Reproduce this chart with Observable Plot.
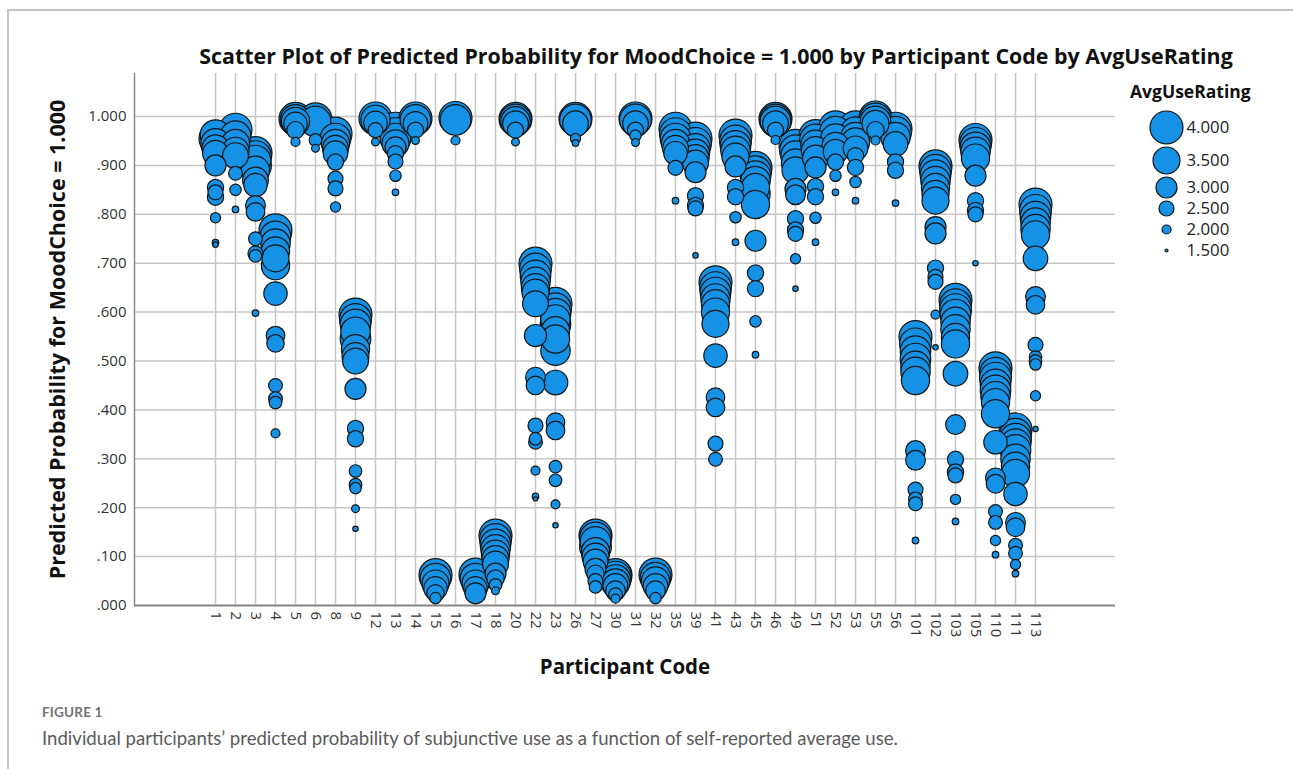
<!DOCTYPE html>
<html><head><meta charset="utf-8">
<script src="https://cdn.jsdelivr.net/npm/d3@7"></script>
<script src="https://cdn.jsdelivr.net/npm/@observablehq/plot@0.6"></script>
<style>
body{margin:0;background:#fff;overflow:hidden;font-family:"Open Sans",sans-serif;}
#wrap{position:relative;width:1293px;height:769px;overflow:hidden;}
#frame{position:absolute;left:7px;top:9px;width:1320px;height:800px;border-left:2px solid #c4c4c4;border-top:2px solid #c4c4c4;}
#title{position:absolute;left:0;width:1432px;top:41px;text-align:center;font-weight:700;font-size:21.4px;color:#111;white-space:nowrap;}
#main{position:absolute;left:0;top:0;}
#legtitle{position:absolute;left:1130px;top:79px;font-weight:700;font-size:17.5px;color:#111;}
#legend{position:absolute;left:1120px;top:100px;}
#fig{position:absolute;left:42px;top:704px;font-family:Lato,sans-serif;font-weight:700;font-size:13.5px;color:#737373;letter-spacing:0.2px;}
#cap{position:absolute;left:42px;top:727px;font-family:Lato,sans-serif;font-size:18.6px;color:#5a5a5a;white-space:nowrap;}
</style></head>
<body>
<div id="wrap">
<div id="frame"></div>
<div id="main"></div>
<div id="title">Scatter Plot of Predicted Probability for MoodChoice = 1.000 by Participant Code by AvgUseRating</div>
<div id="legtitle">AvgUseRating</div>
<div id="legend"></div>
<div id="fig">FIGURE 1</div>
<div id="cap">Individual participants’ predicted probability of subjunctive use as a function of self-reported average use.</div>
</div>
<script>
const codes = ["1","2","3","4","5","6","8","9","12","13","14","15","16","17","18","20","22","23","26","27","30","31","32","35","39","41","43","45","46","49","51","52","53","55","56","101","102","103","105","110","111","113"];

const probs = [
 [0.962,0.955,0.945,0.935,0.925,0.90,0.855,0.845,0.835,0.793,0.742,0.738],
 [0.973,0.96,0.945,0.93,0.92,0.884,0.85,0.81],
 [0.925,0.918,0.91,0.90,0.89,0.87,0.86,0.818,0.805,0.75,0.72,0.715,0.598],
 [0.767,0.755,0.74,0.725,0.71,0.695,0.638,0.552,0.536,0.45,0.423,0.415,0.352],
 [0.995,0.993,0.99,0.985,0.972,0.948],
 [0.994,0.99,0.952,0.935],
 [0.965,0.955,0.945,0.935,0.925,0.907,0.873,0.853,0.815],
 [0.595,0.585,0.575,0.56,0.545,0.525,0.51,0.50,0.443,0.362,0.341,0.275,0.247,0.24,0.198,0.157],
 [0.996,0.993,0.987,0.972,0.948],
 [0.975,0.965,0.955,0.945,0.937,0.924,0.908,0.879,0.845],
 [0.996,0.993,0.985,0.972,0.951],
 [0.062,0.055,0.045,0.035,0.025,0.015],
 [0.997,0.993,0.951],
 [0.063,0.055,0.045,0.035,0.025],
 [0.143,0.135,0.125,0.115,0.105,0.095,0.085,0.065,0.055,0.042,0.03],
 [0.995,0.993,0.99,0.985,0.972,0.948],
 [0.699,0.688,0.675,0.662,0.65,0.64,0.617,0.552,0.467,0.45,0.368,0.341,0.334,0.276,0.223,0.218],
 [0.617,0.607,0.597,0.585,0.575,0.562,0.545,0.521,0.456,0.375,0.358,0.284,0.256,0.207,0.164],
 [0.995,0.993,0.985,0.955,0.946],
 [0.143,0.138,0.13,0.12,0.11,0.10,0.09,0.075,0.065,0.05,0.038],
 [0.062,0.058,0.052,0.046,0.04,0.03,0.022,0.014],
 [0.996,0.993,0.985,0.972,0.961,0.947],
 [0.063,0.057,0.05,0.04,0.03,0.015],
 [0.975,0.965,0.955,0.945,0.935,0.925,0.895,0.828],
 [0.955,0.945,0.935,0.925,0.915,0.905,0.886,0.838,0.818,0.812,0.716],
 [0.661,0.65,0.64,0.628,0.617,0.60,0.576,0.511,0.426,0.405,0.331,0.299],
 [0.961,0.95,0.94,0.93,0.918,0.898,0.855,0.836,0.794,0.743],
 [0.895,0.887,0.878,0.868,0.855,0.842,0.82,0.746,0.68,0.648,0.581,0.513],
 [0.995,0.993,0.99,0.985,0.972,0.952],
 [0.94,0.93,0.92,0.905,0.89,0.852,0.84,0.791,0.768,0.76,0.709,0.648],
 [0.96,0.952,0.942,0.93,0.915,0.896,0.857,0.836,0.793,0.743],
 [0.978,0.968,0.955,0.94,0.928,0.907,0.879,0.845],
 [0.978,0.968,0.958,0.948,0.935,0.92,0.896,0.866,0.828],
 [0.998,0.995,0.99,0.985,0.972,0.951],
 [0.975,0.968,0.958,0.944,0.907,0.89,0.823],
 [0.549,0.535,0.52,0.505,0.49,0.478,0.46,0.317,0.297,0.237,0.218,0.208,0.133],
 [0.898,0.89,0.88,0.868,0.855,0.842,0.828,0.774,0.761,0.69,0.672,0.662,0.595,0.528],
 [0.625,0.615,0.605,0.595,0.58,0.565,0.548,0.535,0.474,0.37,0.299,0.273,0.266,0.217,0.172],
 [0.952,0.945,0.937,0.928,0.915,0.879,0.828,0.808,0.80,0.70],
 [0.485,0.475,0.465,0.452,0.44,0.428,0.415,0.392,0.334,0.261,0.249,0.192,0.17,0.133,0.104],
 [0.36,0.35,0.34,0.33,0.318,0.30,0.285,0.27,0.228,0.17,0.16,0.123,0.107,0.084,0.065],
 [0.82,0.808,0.795,0.783,0.77,0.758,0.71,0.632,0.615,0.533,0.508,0.50,0.493,0.429,0.361]
];

const ratings = [
 [3.8,4.0,3.7,3.5,3.4,3.0,2.6,2.5,2.6,2.1,1.8,1.7],
 [4.0,3.8,3.6,3.5,3.4,2.4,2.2,1.8],
 [4.0,3.9,3.8,3.9,3.6,3.4,3.2,2.9,2.8,2.4,2.5,2.3,1.8],
 [4.0,3.8,3.7,3.6,3.5,3.6,3.2,2.8,2.7,2.4,2.4,2.3,2.0],
 [4.0,3.8,3.6,3.2,2.7,2.0],
 [4.0,3.8,2.3,1.9],
 [4.0,3.8,3.6,3.4,3.3,2.6,2.5,2.5,2.1],
 [4.0,3.9,3.8,3.7,3.8,3.6,3.5,3.4,3.0,2.6,2.6,2.3,2.3,2.2,1.9,1.7],
 [4.0,3.7,3.2,2.5,1.9],
 [4.0,3.9,3.8,3.5,3.0,2.6,2.5,2.2,1.8],
 [4.0,3.8,3.3,2.6,1.9],
 [4.0,3.8,3.5,3.2,2.7,2.2],
 [4.0,3.8,2.0],
 [4.0,3.8,3.5,3.2,3.0],
 [4.0,3.9,3.8,3.7,3.6,3.5,3.4,3.0,2.7,2.3,1.9],
 [4.0,3.9,3.7,3.4,2.6,1.9],
 [4.0,3.9,3.8,3.7,3.6,3.5,3.4,3.1,2.9,2.8,2.5,2.3,2.4,2.0,1.8,1.6],
 [4.0,3.9,3.8,3.7,3.8,3.6,3.6,3.7,3.3,2.8,2.8,2.3,2.3,2.0,1.7],
 [4.0,3.9,3.4,2.1,1.8],
 [4.0,3.9,3.8,3.9,3.6,3.5,3.3,3.0,2.7,2.5,2.3],
 [4.0,3.9,3.8,3.6,3.3,2.9,2.4,2.0],
 [4.0,3.9,3.4,2.6,2.2,1.9],
 [4.0,3.8,3.6,3.3,2.9,2.2],
 [4.0,3.9,3.8,3.6,3.4,3.2,2.5,1.8],
 [4.0,3.9,3.7,3.6,3.5,3.4,3.0,2.6,2.6,2.5,1.7],
 [4.0,3.9,3.8,3.7,3.6,3.6,3.5,3.2,2.8,2.8,2.5,2.4],
 [4.0,3.9,3.8,3.7,3.5,3.0,2.6,2.6,2.2,1.8],
 [4.0,3.9,3.8,3.7,3.6,3.7,3.6,3.0,2.6,2.6,2.2,1.8],
 [4.0,3.9,3.8,3.4,2.6,2.0],
 [4.0,3.9,3.7,3.6,3.5,3.0,2.9,2.6,2.6,2.5,2.1,1.7],
 [4.0,3.9,3.7,3.6,3.4,3.0,2.6,2.6,2.2,1.8],
 [4.0,3.9,3.7,3.5,3.3,2.6,2.2,1.8],
 [4.0,3.8,3.7,3.6,3.3,2.6,2.6,2.2,1.8],
 [4.0,3.9,3.8,3.5,2.7,2.0],
 [4.0,3.9,3.7,3.3,2.6,2.6,1.8],
 [4.0,3.9,3.8,3.8,3.7,3.7,3.6,2.9,2.9,2.5,2.4,2.4,1.8],
 [4.0,3.9,3.8,3.7,3.6,3.5,3.5,3.0,3.0,2.6,2.5,2.5,2.0,1.7],
 [4.0,3.9,3.9,3.8,3.7,3.7,3.6,3.6,3.3,2.9,2.6,2.6,2.5,2.1,1.8],
 [4.0,3.9,3.8,3.7,3.6,3.0,2.6,2.6,2.5,1.7],
 [4.0,3.9,3.9,3.8,3.8,3.7,3.6,3.6,3.2,2.9,2.8,2.4,2.4,2.1,1.8],
 [4.0,3.9,3.9,3.8,3.8,3.7,3.6,3.6,3.2,2.9,2.8,2.4,2.4,2.1,1.8],
 [4.0,3.9,3.8,3.7,3.7,3.6,3.3,2.9,2.8,2.5,2.3,2.3,2.2,2.1,1.7]
];

const yTicks = [0,0.1,0.2,0.3,0.4,0.5,0.6,0.7,0.8,0.9,1.0];
const legendRatings = [4.0,3.5,3.0,2.5,2.0,1.5];
const xLabel = "Participant Code";
const yLabel = "Predicted Probability for MoodChoice = 1.000";

const data = codes.flatMap((c, i) => probs[i].map((p, j) => ({code: c, prob: p, rating: ratings[i][j]})));

const rOpts = {type: "linear", domain: [1.5, 4], range: [1.5, 16.5], clamp: true};
const fmt = d => d3.format(".3f")(d).replace(/^0/, "");
const bubbleFill = "#1591e5";

const main = Plot.plot({
  width: 1293, height: 700,
  marginLeft: 134, marginRight: 178, marginTop: 73, marginBottom: 95,
  style: {background: "transparent", fontFamily: "Open Sans", fontSize: "15px", color: "#222"},
  x: {type: "point", domain: codes, range: [193, 1056]},
  y: {domain: [0, 1.088]},
  r: rOpts,
  marks: [
    Plot.gridY(yTicks, {stroke: "#c6c6c6", strokeOpacity: 1, strokeWidth: 1.5}),
    Plot.gridX(codes, {stroke: "#c6c6c6", strokeOpacity: 1, strokeWidth: 1.5}),
    Plot.ruleY([0], {stroke: "#8a8a8a", strokeWidth: 2}),
    Plot.frame({anchor: "left", stroke: "#8a8a8a", strokeWidth: 1.5}),
    Plot.axisY(yTicks, {tickSize: 0, tickPadding: 8, tickFormat: fmt, label: null, fontSize: 15, fill: "#333"}),
    Plot.axisX({tickSize: 0, tickPadding: 6, tickRotate: 90, label: null, fontSize: 15, fill: "#333"}),
    Plot.dot(data, {x: "code", y: "prob", r: "rating", fill: bubbleFill, stroke: "#151515", strokeWidth: 1.2}),
    Plot.text([yLabel], {frameAnchor: "left", dx: -76, rotate: -90, textAnchor: "middle", fontSize: 21.5, fontWeight: "bold", fill: "#111"}),
    Plot.text([xLabel], {frameAnchor: "bottom", dy: 68, textAnchor: "middle", fontSize: 20.5, fontWeight: "bold", fill: "#111"})
  ]
});
document.getElementById("main").appendChild(main);

// legend: rows spaced from the radii given by the same r scale
const rScale = Plot.scale({r: rOpts});
const legendRows = [];
let yy = 27;
legendRatings.forEach((v, i) => {
  if (i > 0) {
    const prev = rScale.apply(legendRatings[i - 1]);
    yy += Math.max(prev + rScale.apply(v) + 3, 21);
  }
  legendRows.push({rating: v, ly: yy});
});
const legend = Plot.plot({
  width: 170, height: 170, margin: 0,
  style: {background: "transparent", fontFamily: "Open Sans", color: "#222"},
  x: {type: "identity", axis: null}, y: {type: "identity", axis: null},
  r: rOpts,
  marks: [
    Plot.dot(legendRows, {x: () => 46, y: "ly", r: "rating", fill: bubbleFill, stroke: "#151515", strokeWidth: 1.2}),
    Plot.text(legendRows, {x: () => 66, y: "ly", text: d => d.rating.toFixed(3), textAnchor: "start", fontSize: 16.8, fill: "#222"})
  ]
});
document.getElementById("legend").appendChild(legend);
</script>
</body></html>
